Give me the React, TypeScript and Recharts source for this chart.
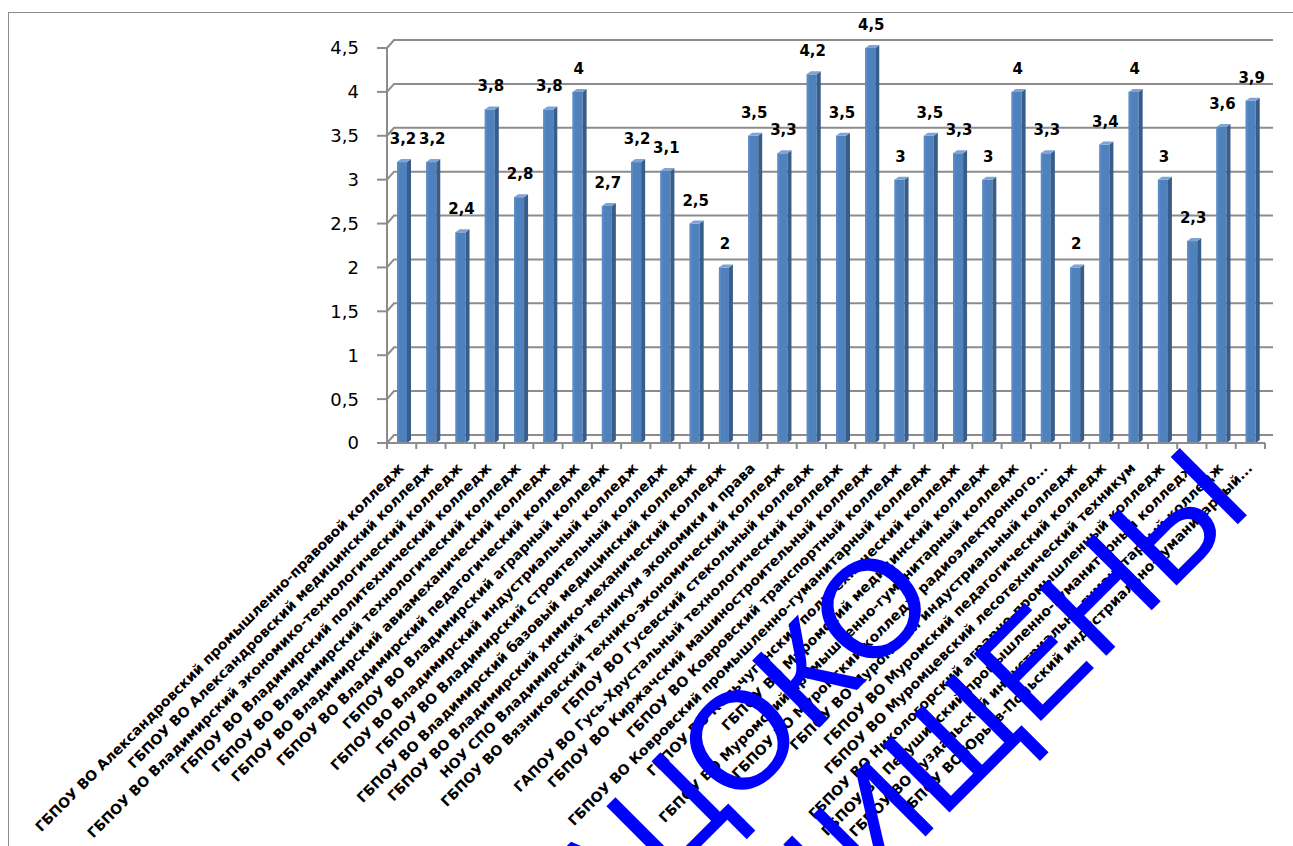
import { BarChart, Bar, XAxis, YAxis, CartesianGrid, LabelList } from "recharts";

const categories = [
  "ГБПОУ ВО Александровский промышленно-правовой колледж",
  "ГБПОУ ВО Александровский медицинский колледж",
  "ГБПОУ ВО Владимирский экономико-технологический колледж",
  "ГБПОУ ВО Владимирский политехнический колледж",
  "ГБПОУ ВО Владимирский технологический колледж",
  "ГБПОУ ВО Владимирский авиамеханический колледж",
  "ГБПОУ ВО Владимирский педагогический колледж",
  "ГБПОУ ВО Владимирский аграрный колледж",
  "ГБПОУ ВО Владимирский индустриальный колледж",
  "ГБПОУ ВО Владимирский строительный колледж",
  "ГБПОУ ВО Владимирский базовый медицинский колледж",
  "ГБПОУ ВО Владимирский химико-механический колледж",
  "НОУ СПО Владимирский техникум экономики и права",
  "ГБПОУ ВО Вязниковский технико-экономический колледж",
  "ГБПОУ ВО Гусевский стекольный колледж",
  "ГАПОУ ВО Гусь-Хрустальный технологический колледж",
  "ГБПОУ ВО Киржачский машиностроительный колледж",
  "ГБПОУ ВО Ковровский транспортный колледж",
  "ГБПОУ ВО Ковровский промышленно-гуманитарный колледж",
  "ГБПОУ ВО Кольчугинский политехнический колледж",
  "ГБПОУ ВО Муромский медицинский колледж",
  "ГБПОУ ВО Муромский промышленно-гуманитарный колледж",
  "ГБПОУ ВО Муромский колледж радиоэлектронного...",
  "ГБПОУ ВО Муромский индустриальный колледж",
  "ГБПОУ ВО Муромский педагогический колледж",
  "ГБПОУ ВО Муромцевский лесотехнический техникум",
  "ГБПОУ ВО Никологорский аграрно-промышленный колледж",
  "ГБПОУ ВО Петушинский промышленно-гуманитарный колледж",
  "ГБПОУ ВО Суздальский индустриально-гуманитарный колледж",
  "ГБПОУ ВО Юрьев-Польский индустриально-гуманитарный...",
];

const scores = [
  3.2, 3.2, 2.4, 3.8, 2.8, 3.8, 4, 2.7, 3.2, 3.1, 2.5, 2, 3.5, 3.3, 4.2,
  3.5, 4.5, 3, 3.5, 3.3, 3, 4, 3.3, 2, 3.4, 4, 3, 2.3, 3.6, 3.9,
];

const yTicks = [0, 0.5, 1, 1.5, 2, 2.5, 3, 3.5, 4, 4.5];

const watermark = ["НАЦОКО", "ЗАЩИЩЕНЫ"];

const data = categories.map((name, i) => ({ name, value: scores[i] }));

const W = 1293;
const H = 846;
const PLOT_LEFT = 387;
const PLOT_RIGHT = 1265;
const PLOT_TOP = 48;
const PLOT_BOTTOM = 443;
const Y_AXIS_W = 80;
const X_AXIS_H = 380;
const BAND = (PLOT_RIGHT - PLOT_LEFT) / categories.length;
const DX = 7;
const DY = 8;
const GRID = "#8c8c8c";

const comma = (v: number) => String(v).replace(".", ",");

function Bar3D(props: any) {
  const { x, y, width, height } = props;
  if (height == null || height <= 0) return null;
  const d = 4;
  const t = 3;
  return (
    <g>
      <rect x={x} y={y} width={width} height={height} fill="#4f81bd" />
      <rect x={x} y={y} width={2} height={height} fill="#5a8bc6" />
      <polygon
        points={`${x + width},${y} ${x + width + d},${y - t} ${x + width + d},${y + height - t} ${x + width},${y + height}`}
        fill="#385d8a"
      />
      <polygon
        points={`${x},${y} ${x + d},${y - t} ${x + width + d},${y - t} ${x + width},${y}`}
        fill="#7ea3d4"
      />
    </g>
  );
}

function GridLine(props: any) {
  const { x1, x2, y1, key } = props;
  return (
    <path
      key={key}
      d={`M${x1},${y1} L${x1 + DX},${y1 - DY} L${x2 + 8},${y1 - DY}`}
      stroke={GRID}
      strokeWidth={2}
      fill="none"
    />
  );
}

function CategoryTick(props: any) {
  const { x, y, payload, index } = props;
  const left = x - BAND / 2;
  return (
    <g>
      <line x1={left} y1={y - 8} x2={left} y2={y - 2} stroke={GRID} strokeWidth={2} />
      {index === categories.length - 1 && (
        <line x1={x + BAND / 2} y1={y - 8} x2={x + BAND / 2} y2={y - 2} stroke={GRID} strokeWidth={2} />
      )}
      <text
        transform={`translate(${x + 3},${y + 18}) rotate(-45)`}
        textAnchor="end"
        fontFamily="'DejaVu Sans', sans-serif"
        fontWeight={700}
        fontSize={14}
        fill="#000"
      >
        {payload.value}
      </text>
    </g>
  );
}

function ValueLabel(props: any) {
  const { x, y, width, value } = props;
  return (
    <text
      x={x + width / 2 + 1}
      y={y - 18}
      textAnchor="middle"
      fontFamily="'DejaVu Sans', sans-serif"
      fontWeight={700}
      fontSize={15}
      fill="#000"
    >
      {comma(value)}
    </text>
  );
}

export default function App() {
  return (
    <div
      style={{
        position: "fixed",
        left: 0,
        top: 0,
        width: W,
        height: H,
        overflow: "hidden",
        background: "#fff",
      }}
    >
      <div
        style={{
          position: "absolute",
          left: 8,
          top: 12,
          width: 1400,
          height: 900,
          borderLeft: "1px solid #8c8c8c",
          borderTop: "1px solid #8c8c8c",
        }}
      />
      <div style={{ position: "absolute", left: 0, top: 0 }}>
        <BarChart
          width={W}
          height={H}
          data={data}
          barCategoryGap={0}
          margin={{
            top: PLOT_TOP,
            right: W - PLOT_RIGHT,
            bottom: H - PLOT_BOTTOM - X_AXIS_H,
            left: PLOT_LEFT - Y_AXIS_W,
          }}
        >
          <CartesianGrid vertical={false} horizontal={GridLine as any} />
          <XAxis
            dataKey="name"
            interval={0}
            height={X_AXIS_H}
            axisLine={{ stroke: GRID, strokeWidth: 2 }}
            tickLine={false}
            tick={<CategoryTick />}
          />
          <YAxis
            width={Y_AXIS_W}
            domain={[0, 4.5]}
            ticks={yTicks}
            interval={0}
            tickFormatter={comma}
            axisLine={{ stroke: GRID, strokeWidth: 2 }}
            tickLine={{ stroke: GRID, strokeWidth: 2 }}
            tickSize={10}
            tickMargin={18}
            tick={{ fill: "#000", fontSize: 18, fontFamily: "'DejaVu Sans', sans-serif" }}
          />
          <Bar dataKey="value" barSize={10} shape={<Bar3D />} isAnimationActive={false}>
            <LabelList dataKey="value" content={<ValueLabel />} />
          </Bar>
        </BarChart>
      </div>
      <svg
        width={W}
        height={H}
        style={{ position: "absolute", left: 0, top: 0, pointerEvents: "none" }}
      >
        <text
          transform="translate(943,604) rotate(-45)"
          textAnchor="end"
          fontFamily="'Liberation Sans', Arial, sans-serif"
          fontSize={138}
          fill="#0000ff"
        >
          {watermark[0]}
        </text>
        <text
          transform="translate(1255,507) rotate(-45)"
          textAnchor="end"
          fontFamily="'Liberation Sans', Arial, sans-serif"
          fontSize={138}
          fill="#0000ff"
        >
          {watermark[1]}
        </text>
      </svg>
    </div>
  );
}
